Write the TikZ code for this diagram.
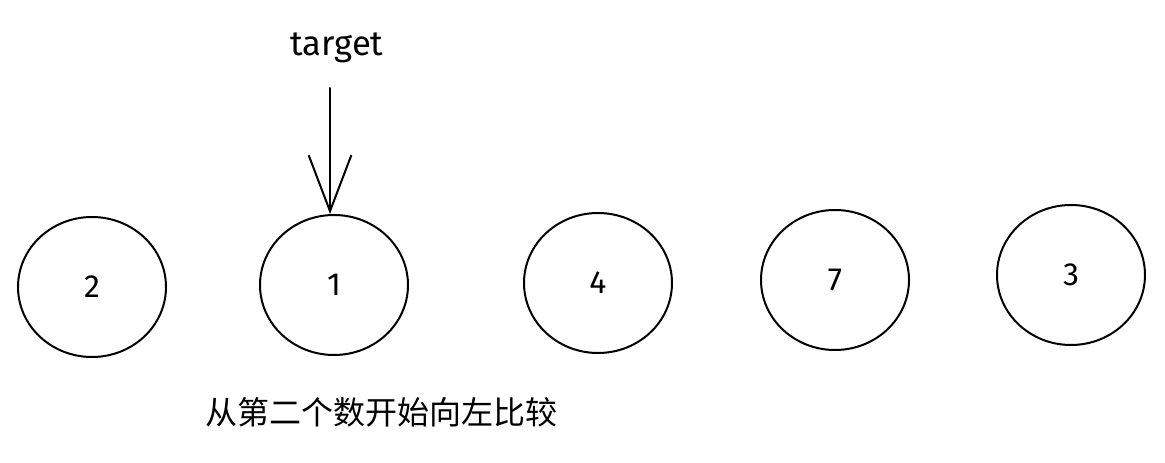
\documentclass[tikz,border=0pt]{standalone}
\usepackage{fontspec}
\setmainfont{Fira Sans}
\newfontfamily\cjk{Noto Sans CJK SC}
\usetikzlibrary{shapes.geometric}
\usetikzlibrary{arrows.meta}

\tikzset{
  numcircle/.style={draw, line width=1.5pt, ellipse, minimum width=111pt, minimum height=105pt, inner sep=0pt, font=\fontsize{24}{28}\selectfont},
  sketchline/.style={line width=1.5pt, line cap=round},
}

\begin{document}
\begin{tikzpicture}[x=0.75pt,y=0.75pt,yscale=-1,xscale=1]
\useasboundingbox (0,0) rectangle (1165,463);

%Shape: Circle [id:c1]
\draw (92,287) node [numcircle] (n1) {2};
%Shape: Circle [id:c2]
\draw (334,285) node [numcircle] (n2) {1};
%Shape: Circle [id:c3]
\draw (598,283) node [numcircle] (n3) {4};
%Shape: Circle [id:c4]
\draw (835,280) node [numcircle] (n4) {7};
%Shape: Circle [id:c5]
\draw (1071,275) node [numcircle] (n5) {3};

% Text Node
\draw (337,48) node [inner sep=0.75pt, font=\fontsize{26}{30}\selectfont] (tgt) {target};
\coordinate (tgtstart) at (330,88);

%Straight Lines [id:arrow]
\draw [sketchline, -{Straight Barb[length=42pt, width=32pt, line width=1.5pt]}] (tgtstart) -- (n2.north -| tgtstart);

% Text Node
\draw (381,412) node [inner sep=0.75pt, font=\cjk\fontsize{24}{28}\selectfont] (caption) {从第二个数开始向左比较};

\end{tikzpicture}
\end{document}
